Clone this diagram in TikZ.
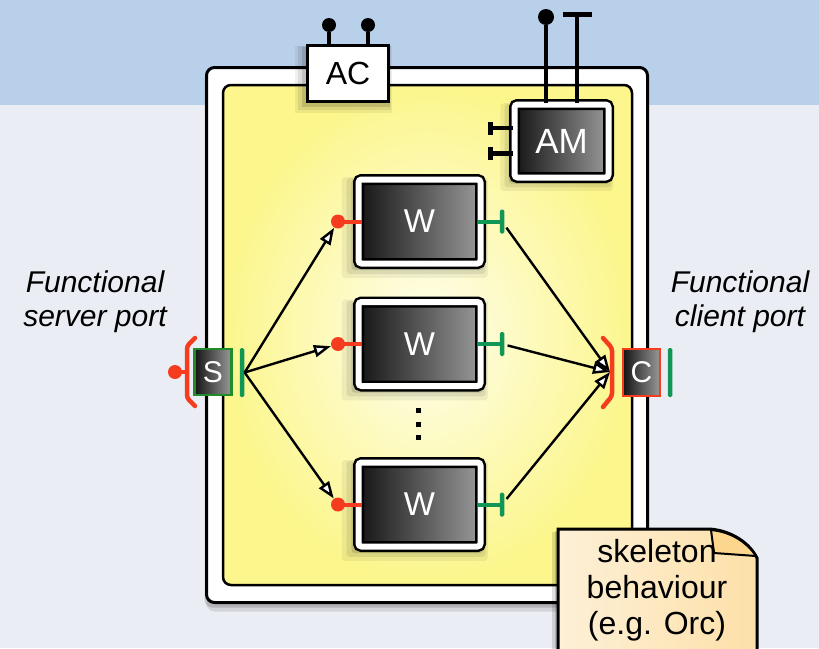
\documentclass[tikz,border=0pt]{standalone}
\usepackage{fontspec}
\setmainfont{Liberation Sans}
\usepackage{tikz}
\usetikzlibrary{positioning}
\usetikzlibrary{arrows.meta,shadows}

\definecolor{skyblue}{RGB}{185,208,234}
\definecolor{paper}{RGB}{234,237,243}
\definecolor{pale}{RGB}{254,254,238}
\definecolor{lemon}{RGB}{252,246,140}
\definecolor{portred}{RGB}{245,60,30}
\definecolor{portgreen}{RGB}{16,150,85}
\definecolor{boxgreen}{RGB}{30,140,40}
\definecolor{notelight}{RGB}{253,240,215}
\definecolor{noteorange}{RGB}{252,208,122}

\begin{document}
\begin{tikzpicture}[x=1pt, y=-1pt, thick,
    softshadow/.style = {
        general shadow={fill=black, opacity=0.06, shadow xshift=-4pt, shadow yshift=-5pt, shadow scale=1.2},
        general shadow={fill=black, opacity=0.08, shadow xshift=-3pt, shadow yshift=-4pt, shadow scale=1.14},
        general shadow={fill=black, opacity=0.12, shadow xshift=-2pt, shadow yshift=-3pt, shadow scale=1.08}},
    dark/.style = {left color=black!92, right color=black!40, text=white},
    worker/.style = {dark, draw=black, line width=2.5pt, double=white, double distance=6pt,
        rounded corners=3pt, font=\fontsize{33}{36}\selectfont, softshadow},
    portbox/.style = {dark, line width=2.5pt, minimum width=37pt, minimum height=46pt,
        inner sep=0pt, font=\fontsize{30}{32}\selectfont},
    acbox/.style = {draw, fill=white, line width=3pt, minimum width=81pt, minimum height=56pt,
        font=\fontsize{32}{34}\selectfont, softshadow},
    rball/.style = {circle, fill=portred, inner sep=0pt, minimum size=14pt},
    kball/.style = {circle, fill=black, inner sep=0pt, minimum size=14pt},
    gbar/.style = {fill=portgreen, inner sep=0pt, minimum width=4.5pt, minimum height=24pt, rounded corners=1.5pt},
    kbar/.style = {fill=black, inner sep=0pt, minimum width=5pt, minimum height=13pt},
    rstem/.style = {portred, line width=4pt},
    gstem/.style = {portgreen, line width=4pt},
    kstem/.style = {black, line width=4.5pt},
    flow/.style = {line width=2.4pt, -{Triangle[fill=white, length=17pt, width=12pt]}},
    caption/.style = {align=center, font=\fontsize{30}{34}\selectfont\itshape}]
    \useasboundingbox (0,0) rectangle (819,648);
    \clip (0,0) rectangle (819,648);
    % Background
    \fill[paper] (0,0) rectangle (819,648);
    \fill[skyblue] (0,0) rectangle (819,105);
    % Outer component frame and skeleton body
    \draw[line width=3pt, fill=white, rounded corners=8pt,
        general shadow={fill=black, opacity=0.1, shadow xshift=0pt, shadow yshift=-9pt},
        general shadow={fill=black, opacity=0.15, shadow xshift=-2pt, shadow yshift=-5pt}]
        (206.5,67.5) rectangle (647.5,602.5);
    \draw[line width=2.5pt, rounded corners=8pt, inner color=pale, outer color=lemon] (223,85) rectangle (632,585);

    % Controllers
    \node[acbox] (ac) at (348,73.5) {AC};
    \node[kball] (acl) at (329,25) {};
    \node[kball] (acr) at (368,25) {};
    \draw[kstem] (acl) -- (acl |- ac.north);
    \draw[kstem] (acr) -- (acr |- ac.north);

    \node[worker, minimum width=94pt, minimum height=73pt, font=\fontsize{35}{36}\selectfont] (am) at (561.5,141) {AM};
    \node[kball, minimum size=16pt] (amball) at (546,17) {};
    \node[fill=black, inner sep=0pt, minimum width=29pt, minimum height=5pt] (amtee) at (577,14.5) {};
    \draw[kstem] (amball) -- (amball |- am.north);
    \draw[kstem] (amtee.center) -- (amtee.center |- am.north);
    \node[kbar] (amup) at (490,128) {};
    \node[kbar] (amdown) at (490,153.5) {};
    \draw[kstem] (amup.center) -- (amup.center -| am.west);
    \draw[kstem] (amdown.center) -- (amdown.center -| am.west);

    % Workers
    \foreach \i/\yy in {1/221.5, 2/344, 3/504.5} {
        \node[worker, minimum width=122pt, minimum height=84pt] (w\i) at (419.5,\yy) {W};
        \node[rball] (w\i in) at ([xshift=-81.5pt]w\i.center) {};
        \node[gbar] (w\i out) at ([xshift=82.5pt]w\i.center) {};
        \draw[rstem] (w\i in.center) -- ([xshift=-58pt]w\i.center);
        \draw[gstem] ([xshift=58pt]w\i.center) -- (w\i out.center);
    }
    \foreach \yy in {410,424,437}
        \fill (416,\yy-2.5) rectangle (421,\yy+2.5);

    % Server port S
    \node[portbox, draw=boxgreen] (s) at (213,372) {S};
    \node[gbar, minimum height=49pt] (sbar) at (242,372.5) {};
    \node[rball] (sin) at (175,372) {};
    \draw[portred, line width=4.5pt, line cap=round, rounded corners=3pt] (195,338) -- (187,346) -- (187,398) -- (195,406);
    \draw[rstem] (sin.center) -- (187,372);

    % Client port C
    \node[portbox, draw=portred, minimum height=47pt] (c) at (641.5,372.5) {C};
    \node[gbar, minimum height=49pt] (cbar) at (670,372.5) {};
    \draw[portred, line width=4.5pt, line cap=round, rounded corners=3pt] (603,338) -- (612,348) -- (612,396) -- (603,407);
    \coordinate (cin) at (610,372);

    % Edges
    \foreach \i in {1,2,3} {
        \draw[flow] (sbar.east) -- (w\i in);
        \draw[flow, shorten <=3pt] (w\i out) -- (cin);
    }

    % Note
    \draw[line width=3pt, left color=notelight, middle color=noteorange, right color=notelight!50!noteorange,
        general shadow={fill=black, opacity=0.12, shadow xshift=-6pt, shadow yshift=-3pt},
        general shadow={fill=black, opacity=0.15, shadow xshift=-3pt, shadow yshift=-2pt}]
        (558,680) -- (558,529) -- (710,529) .. controls (733,531) and (750,544) .. (757,558) -- (757,680);
    \draw[line width=2pt, fill=noteorange!80!notelight, line join=round]
        (711,530) -- (714,553) -- (756,556) .. controls (748,544) and (733,532) .. (711,530) -- cycle;
    \node[align=center, font=\fontsize{32}{36}\selectfont] (note) at (657,590) {skeleton\\behaviour\\(e.g. Orc)};

    % Port captions
    \node[caption] (srvcap) at (95,302) {Functional\\server port};
    \node[caption] (clicap) at (740,302) {Functional\\client port};
\end{tikzpicture}
\end{document}
